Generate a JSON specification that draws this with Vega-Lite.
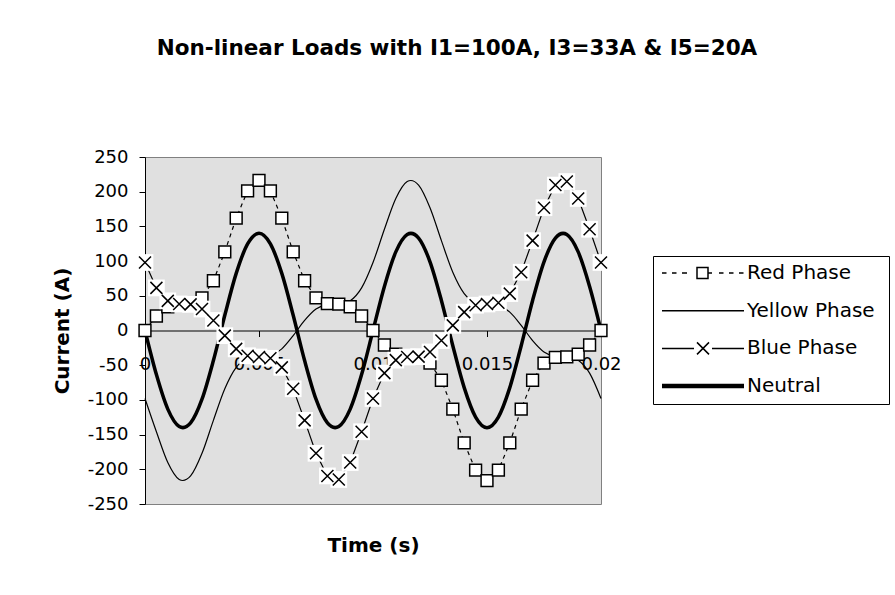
{
  "$schema": "https://vega.github.io/schema/vega-lite/v6.json",
  "width": 456,
  "height": 347,
  "autosize": {"type": "none"},
  "padding": {"left": 145, "top": 157, "right": 294, "bottom": 91},
  "background": "white",
  "config": {
    "font": "DejaVu Sans",
    "view": {"fill": "#e0e0e0", "stroke": "#808080", "strokeWidth": 1},
    "axis": {
      "grid": false,
      "domainColor": "black",
      "tickColor": "black",
      "labelColor": "black",
      "titleColor": "black",
      "labelFontSize": 18,
      "titleFontSize": 20,
      "titleFontWeight": "bold",
      "tickSize": 6
    }
  },
  "title": {
    "text": "Non-linear Loads with I1=100A, I3=33A & I5=20A",
    "fontSize": 21.5,
    "fontWeight": "bold",
    "color": "black",
    "anchor": "middle",
    "frame": "group",
    "dx": 84,
    "offset": 72,
    "baseline": "alphabetic"
  },
  "data": {
    "values": [
      {"time": 0, "red": 0, "yellow": -97.98, "blue": 97.98, "neutral": 0},
      {"time": 0.0005, "red": 20.93, "yellow": -145.9, "blue": 61.4, "neutral": -63.56},
      {"time": 0.001, "red": 34.23, "yellow": -190.23, "blue": 42.73, "neutral": -113.26},
      {"time": 0.0015, "red": 38.11, "yellow": -214.64, "blue": 38.25, "neutral": -138.28},
      {"time": 0.002, "red": 38.74, "yellow": -209.52, "blue": 37.63, "neutral": -133.15},
      {"time": 0.0025, "red": 47.0, "yellow": -176.92, "blue": 30.92, "neutral": -99.0},
      {"time": 0.003, "red": 71.71, "yellow": -129.48, "blue": 14.5, "neutral": -43.26},
      {"time": 0.0035, "red": 113.31, "yellow": -83.99, "blue": -7.42, "neutral": 21.9},
      {"time": 0.004, "red": 161.93, "yellow": -53.17, "blue": -26.46, "neutral": 82.29},
      {"time": 0.0045, "red": 201.26, "yellow": -40.1, "blue": -36.41, "neutral": 124.74},
      {"time": 0.005, "red": 216.37, "yellow": -38.18, "blue": -38.18, "neutral": 140.0},
      {"time": 0.0055, "red": 201.26, "yellow": -36.41, "blue": -40.1, "neutral": 124.74},
      {"time": 0.006, "red": 161.93, "yellow": -26.46, "blue": -53.17, "neutral": 82.29},
      {"time": 0.0065, "red": 113.31, "yellow": -7.42, "blue": -83.99, "neutral": 21.9},
      {"time": 0.007, "red": 71.71, "yellow": 14.5, "blue": -129.48, "neutral": -43.26},
      {"time": 0.0075, "red": 47.0, "yellow": 30.92, "blue": -176.92, "neutral": -99.0},
      {"time": 0.008, "red": 38.74, "yellow": 37.63, "blue": -209.52, "neutral": -133.15},
      {"time": 0.0085, "red": 38.11, "yellow": 38.25, "blue": -214.64, "neutral": -138.28},
      {"time": 0.009, "red": 34.23, "yellow": 42.73, "blue": -190.23, "neutral": -113.26},
      {"time": 0.0095, "red": 20.93, "yellow": 61.4, "blue": -145.9, "neutral": -63.56},
      {"time": 0.01, "red": 0, "yellow": 97.98, "blue": -97.98, "neutral": 0},
      {"time": 0.0105, "red": -20.93, "yellow": 145.9, "blue": -61.4, "neutral": 63.56},
      {"time": 0.011, "red": -34.23, "yellow": 190.23, "blue": -42.73, "neutral": 113.26},
      {"time": 0.0115, "red": -38.11, "yellow": 214.64, "blue": -38.25, "neutral": 138.28},
      {"time": 0.012, "red": -38.74, "yellow": 209.52, "blue": -37.63, "neutral": 133.15},
      {"time": 0.0125, "red": -47.0, "yellow": 176.92, "blue": -30.92, "neutral": 99.0},
      {"time": 0.013, "red": -71.71, "yellow": 129.48, "blue": -14.5, "neutral": 43.26},
      {"time": 0.0135, "red": -113.31, "yellow": 83.99, "blue": 7.42, "neutral": -21.9},
      {"time": 0.014, "red": -161.93, "yellow": 53.17, "blue": 26.46, "neutral": -82.29},
      {"time": 0.0145, "red": -201.26, "yellow": 40.1, "blue": 36.41, "neutral": -124.74},
      {"time": 0.015, "red": -216.37, "yellow": 38.18, "blue": 38.18, "neutral": -140.0},
      {"time": 0.0155, "red": -201.26, "yellow": 36.41, "blue": 40.1, "neutral": -124.74},
      {"time": 0.016, "red": -161.93, "yellow": 26.46, "blue": 53.17, "neutral": -82.29},
      {"time": 0.0165, "red": -113.31, "yellow": 7.42, "blue": 83.99, "neutral": -21.9},
      {"time": 0.017, "red": -71.71, "yellow": -14.5, "blue": 129.48, "neutral": 43.26},
      {"time": 0.0175, "red": -47.0, "yellow": -30.92, "blue": 176.92, "neutral": 99.0},
      {"time": 0.018, "red": -38.74, "yellow": -37.63, "blue": 209.52, "neutral": 133.15},
      {"time": 0.0185, "red": -38.11, "yellow": -38.25, "blue": 214.64, "neutral": 138.28},
      {"time": 0.019, "red": -34.23, "yellow": -42.73, "blue": 190.23, "neutral": 113.26},
      {"time": 0.0195, "red": -20.93, "yellow": -61.4, "blue": 145.9, "neutral": 63.56},
      {"time": 0.02, "red": 0, "yellow": -97.98, "blue": 97.98, "neutral": 0}
    ]
  },
  "transform": [{"fold": ["red", "yellow", "blue", "neutral"], "as": ["series", "current"]}],
  "encoding": {
    "x": {
      "field": "time",
      "type": "quantitative",
      "scale": {"domain": [0, 0.02], "nice": false, "zero": false},
      "axis": {
        "values": [0, 0.005, 0.01, 0.015, 0.02],
        "format": "~g",
        "offset": -173.5,
        "labelPadding": 19,
        "labelFlush": false,
        "labelOverlap": false,
        "title": "Time (s)",
        "titleY": 221,
        "titleBaseline": "alphabetic"
      }
    },
    "y": {
      "field": "current",
      "type": "quantitative",
      "scale": {"domain": [-250, 250], "nice": false},
      "axis": {
        "values": [-250, -200, -150, -100, -50, 0, 50, 100, 150, 200, 250],
        "labelExpr": "replace(datum.label, '\u2212', '-')",
        "labelPadding": 11,
        "title": "Current (A)",
        "titleX": -83,
        "titleY": 173.5,
        "titleAngle": -90,
        "titleAlign": "center",
        "titleBaseline": "middle"
      }
    }
  },
  "layer": [
    {
      "transform": [{"filter": "datum.series === 'red'"}],
      "mark": {"type": "line", "color": "black", "strokeWidth": 1.2, "strokeDash": [4, 4]}
    },
    {
      "transform": [{"filter": "datum.series === 'yellow'"}],
      "mark": {"type": "line", "color": "black", "strokeWidth": 1.2, "interpolate": "cardinal"}
    },
    {
      "transform": [{"filter": "datum.series === 'blue'"}],
      "mark": {"type": "line", "color": "black", "strokeWidth": 1.2}
    },
    {
      "transform": [{"filter": "datum.series === 'neutral'"}],
      "mark": {"type": "line", "color": "black", "strokeWidth": 3.5, "interpolate": "cardinal"}
    },
    {
      "transform": [{"filter": "datum.series === 'red'"}],
      "mark": {"type": "point", "shape": "square", "size": 140, "filled": true, "fill": "white", "stroke": "black", "strokeWidth": 1.5, "opacity": 1}
    },
    {
      "transform": [{"filter": "datum.series === 'blue'"}],
      "mark": {"type": "point", "shape": "square", "size": 280, "filled": true, "fill": "white", "strokeWidth": 0, "opacity": 1}
    },
    {
      "transform": [{"filter": "datum.series === 'blue'"}],
      "mark": {"type": "point", "shape": "M-1,-1L1,1M1,-1L-1,1", "size": 144, "filled": false, "stroke": "black", "strokeWidth": 1.5, "opacity": 1}
    },
    {
      "data": {"values": []},
      "mark": {"type": "point", "size": 100, "filled": true, "fill": "white", "stroke": "black", "strokeWidth": 1, "opacity": 1},
      "encoding": {
        "shape": {
          "field": "series",
          "type": "nominal",
          "scale": {
            "domain": ["Red Phase", "Yellow  Phase", "Blue Phase", "Neutral"],
            "range": [
              "M-1.6,0H-0.7M0.4,0H1.3M2.4,0H3.4M7.6,0H8.4M9.8,0H10.7M11.8,0H12.7M13.8,0H14.7M5.4,-1.1H7.6V1.1H5.4Z",
              "M-1.6,0H14.8",
              "M-1.6,0H4.8M8.4,0H14.8M5.4,-1.2L7.8,1.2M7.8,-1.2L5.4,1.2",
              "M-1.6,-0.3H14.8M-1.6,-0.1H14.8M-1.6,0.1H14.8M-1.6,0.3H14.8"
            ]
          },
          "legend": {
            "title": null,
            "orient": "none",
            "legendX": 508,
            "legendY": 99,
            "padding": 7,
            "strokeColor": "black",
            "fillColor": "white",
            "labelFontSize": 20,
            "labelColor": "black",
            "labelOffset": 67,
            "rowPadding": 17.7,
            "symbolSize": 100
          }
        }
      }
    }
  ]
}
